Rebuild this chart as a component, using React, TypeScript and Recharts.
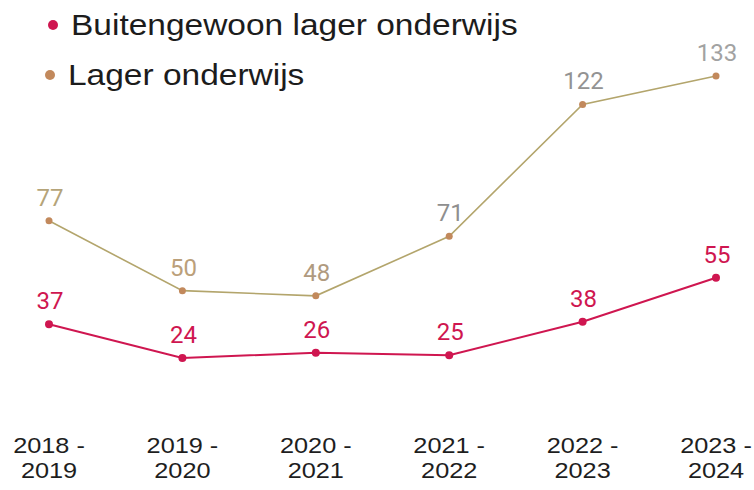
import React from "react";
import { LineChart, Line, XAxis, YAxis, LabelList } from "recharts";

const periodStart = ["2018 -", "2019 -", "2020 -", "2021 -", "2022 -", "2023 -"];
const periodEnd = ["2019", "2020", "2021", "2022", "2023", "2024"];
const buitengewoon = [37, 24, 26, 25, 38, 55];
const lager = [77, 50, 48, 71, 122, 133];
const seriesNames = ["Buitengewoon lager onderwijs", "Lager onderwijs"];

const data = periodStart.map((p, i) => ({
  period: p,
  end: periodEnd[i],
  buitengewoon: buitengewoon[i],
  lager: lager[i],
}));

const RED = "#cf1650";
const LINE_TAN = "#b3a56c";
const DOT_TAN = "#c2895c";
const LAGER_LABEL_COLORS = ["#b5a479", "#bba07a", "#b09a80", "#8f8f8f", "#939393", "#a2a2a2"];

const Tick = (props: any) => {
  const { x, payload, index } = props;
  return (
    <g transform={`translate(${x},0)`}>
      <g transform="translate(0,453) scale(1.15,1)">
        <text x={0} y={0} textAnchor="middle" fontFamily="Liberation Sans, Arial, sans-serif" fontSize={22} fill="#1e1e1e">
          {payload.value}
        </text>
      </g>
      <g transform="translate(0,478) scale(1.15,1)">
        <text x={0} y={0} textAnchor="middle" fontFamily="Liberation Sans, Arial, sans-serif" fontSize={22} fill="#1e1e1e">
          {periodEnd[index]}
        </text>
      </g>
    </g>
  );
};

const makeLabel = (colorFn: (i: number) => string) => (props: any) => {
  const { x, y, value, index } = props;
  return (
    <text x={x + 1} y={y - 15} textAnchor="middle" fontFamily="Roboto, sans-serif" fontSize={24} fill={colorFn(index)}>
      {value}
    </text>
  );
};

const LegendOverlay = () => (
  <svg width={600} height={100} style={{ position: "absolute", left: 0, top: 0, display: "block" }}>
    <circle cx={53} cy={25} r={5} fill={RED} />
    <g transform="translate(71,35) scale(1.155,1)">
      <text x={0} y={0} fontFamily="Liberation Sans, Arial, sans-serif" fontSize={29} fill="#1c1c1c">
        {seriesNames[0]}
      </text>
    </g>
    <circle cx={50} cy={75} r={5} fill={DOT_TAN} />
    <g transform="translate(68,85) scale(1.155,1)">
      <text x={0} y={0} fontFamily="Liberation Sans, Arial, sans-serif" fontSize={29} fill="#1c1c1c">
        {seriesNames[1]}
      </text>
    </g>
  </svg>
);

export default function App() {
  return (
    <div style={{ position: "absolute", left: 0, top: 0, width: 754, height: 490, background: "#fff" }}>
      <LineChart width={754} height={490} data={data} margin={{ top: 32, right: 38, bottom: 40, left: 49 }}>
        <XAxis dataKey="period" height={30} axisLine={false} tickLine={false} tick={<Tick />} interval={0} />
        <YAxis hide domain={[0, 150]} />
        <Line
          type="linear"
          dataKey="lager"
          stroke={LINE_TAN}
          strokeWidth={1.6}
          dot={{ r: 3.5, fill: DOT_TAN, stroke: DOT_TAN, strokeWidth: 0 }}
          isAnimationActive={false}
        >
          <LabelList dataKey="lager" content={makeLabel((i) => LAGER_LABEL_COLORS[i])} />
        </Line>
        <Line
          type="linear"
          dataKey="buitengewoon"
          stroke={RED}
          strokeWidth={2}
          dot={{ r: 4, fill: RED, stroke: RED, strokeWidth: 0 }}
          isAnimationActive={false}
        >
          <LabelList dataKey="buitengewoon" content={makeLabel(() => RED)} />
        </Line>
      </LineChart>
      <LegendOverlay />
    </div>
  );
}
